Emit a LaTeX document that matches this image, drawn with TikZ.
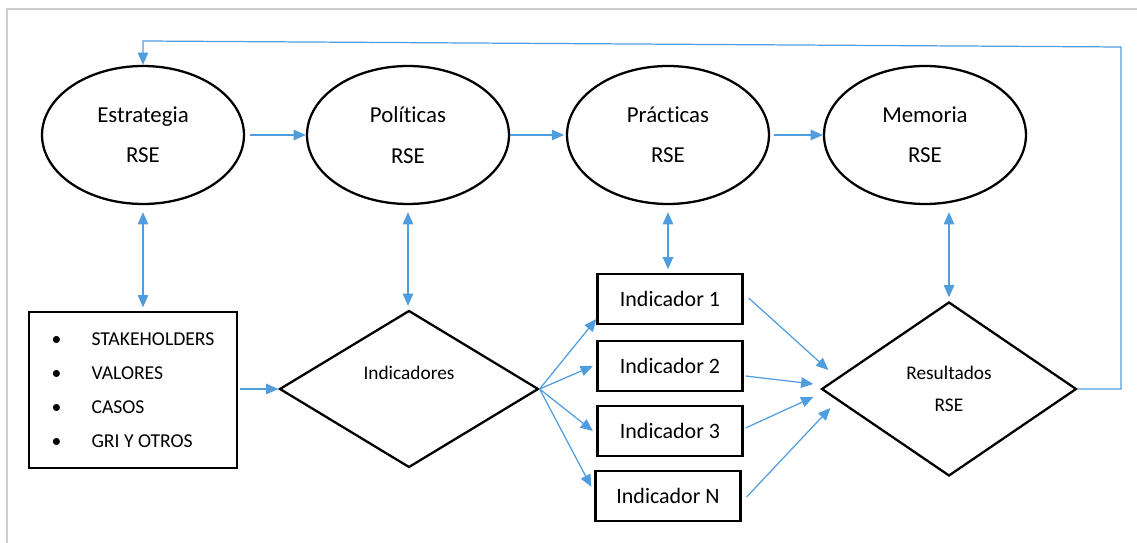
\documentclass[tikz,border=0pt]{standalone}
\usepackage{fontspec}
\setmainfont{Carlito}[Ligatures=NoCommon]
\usepackage{tikz}
\usetikzlibrary{arrows.meta, shapes.geometric}
\usepackage{xcolor}
\definecolor{azul}{RGB}{79,157,222}
\definecolor{marco}{RGB}{205,205,205}

\tikzset{
    elipse/.style={draw, ellipse, line width=1.3pt, minimum width=4.04cm, minimum height=2.76cm, inner sep=0pt, align=center, font=\fontsize{13pt}{23pt}\selectfont},
    rombo/.style={draw, diamond, line width=1.3pt, inner sep=0pt, align=center, font=\fontsize{11pt}{18pt}\selectfont},
    caja/.style={draw, line width=1.3pt, minimum width=2.9cm, minimum height=1cm, inner sep=0pt, font=\fontsize{12.5pt}{15pt}\selectfont},
    flecha/.style={azul, line width=0.7pt, >={Triangle[length=7pt,width=6pt]}, ->},
    dflecha/.style={flecha, <->, shorten <=4pt, shorten >=2pt}
}

\begin{document}
\begin{tikzpicture}[x=0.02cm, y=-0.02cm]
            \useasboundingbox (0,0) rectangle (1137,543);
            \draw[marco, line width=1.2pt] (7,543) -- (7,9) -- (1137,9);

            \node[elipse] (estr) at (143,135) {Estrategia\\RSE};
            \node[elipse] (poli) at (408,135) {Políticas\\RSE};
            \node[elipse] (prac) at (668,135) {Prácticas\\RSE};
            \node[elipse] (memo) at (925,135) {Memoria\\RSE};

            \node[draw, line width=1.3pt, minimum width=4.16cm, minimum height=3.12cm, inner sep=0pt, font=\fontsize{11.2pt}{19.3pt}\selectfont] (lista) at (133,390)
                {\begin{tabular}{@{}p{0.8cm}@{}l@{}}
                \textbullet & STAKEHOLDERS\\
                \textbullet & VALORES\\
                \textbullet & CASOS\\
                \textbullet & GRI Y OTROS
                \end{tabular}};
            \node[rombo, minimum width=5.18cm, minimum height=3.14cm] (indic) at (409,389) {Indicadores\\ \mbox{}};

            \node[caja] (ind1) at (670,299) {Indicador 1};
            \node[caja] (ind2) at (670,366) {Indicador 2};
            \node[caja] (ind3) at (670,431) {Indicador 3};
            \node[caja] (indN) at (668,496) {Indicador N};

            \node[rombo, minimum width=5.1cm, minimum height=3.48cm] (resul) at (949,389) {Resultados\\RSE};

            \draw[flecha, shorten <=3pt] (estr.east) -- (poli.west);
            \draw[flecha, shorten >=1pt] (poli.east) -- (prac.west);
            \draw[flecha, shorten <=2pt] (prac.east) -- (memo.west);

            \draw[dflecha] (estr.south) -- (estr.south |- lista.north);
            \draw[dflecha] (poli.south) -- (poli.south |- indic.north);
            \draw[dflecha] (prac.south) -- (prac.south |- ind1.north);
            \draw[dflecha] (resul.north |- memo.south) -- (resul.north);

            \draw[flecha, shorten <=1pt] (lista.east |- indic.west) -- (indic.west);

            \draw[flecha] (indic.east) -- ([yshift=3.5pt]ind1.south west);
            \draw[flecha] (indic.east) -- ([xshift=-2pt]ind2.west);
            \draw[flecha] (indic.east) -- ([xshift=-2pt]ind3.west);
            \draw[flecha] (indic.east) -- ([shift={(-3,-9)}]indN.west);

            \draw[flecha] ([shift={(5,-1)}]ind1.east) -- ([shift={(8,-19)}]resul.west);
            \draw[flecha] ([shift={(2,10)}]ind2.east) -- ([shift={(-7,-5)}]resul.west);
            \draw[flecha] ([shift={(2,-3)}]ind3.east) -- ([shift={(-7,8)}]resul.west);
            \draw[flecha] ([shift={(5,1)}]indN.east) -- ([shift={(10,19)}]resul.west);

            \coordinate (vuelta) at (1121,47);
            \coordinate (arriba) at (143,41);
            \draw[flecha] (resul.east) -| (vuelta) -- (arriba) -- (estr.north);
        \end{tikzpicture}
\end{document}
